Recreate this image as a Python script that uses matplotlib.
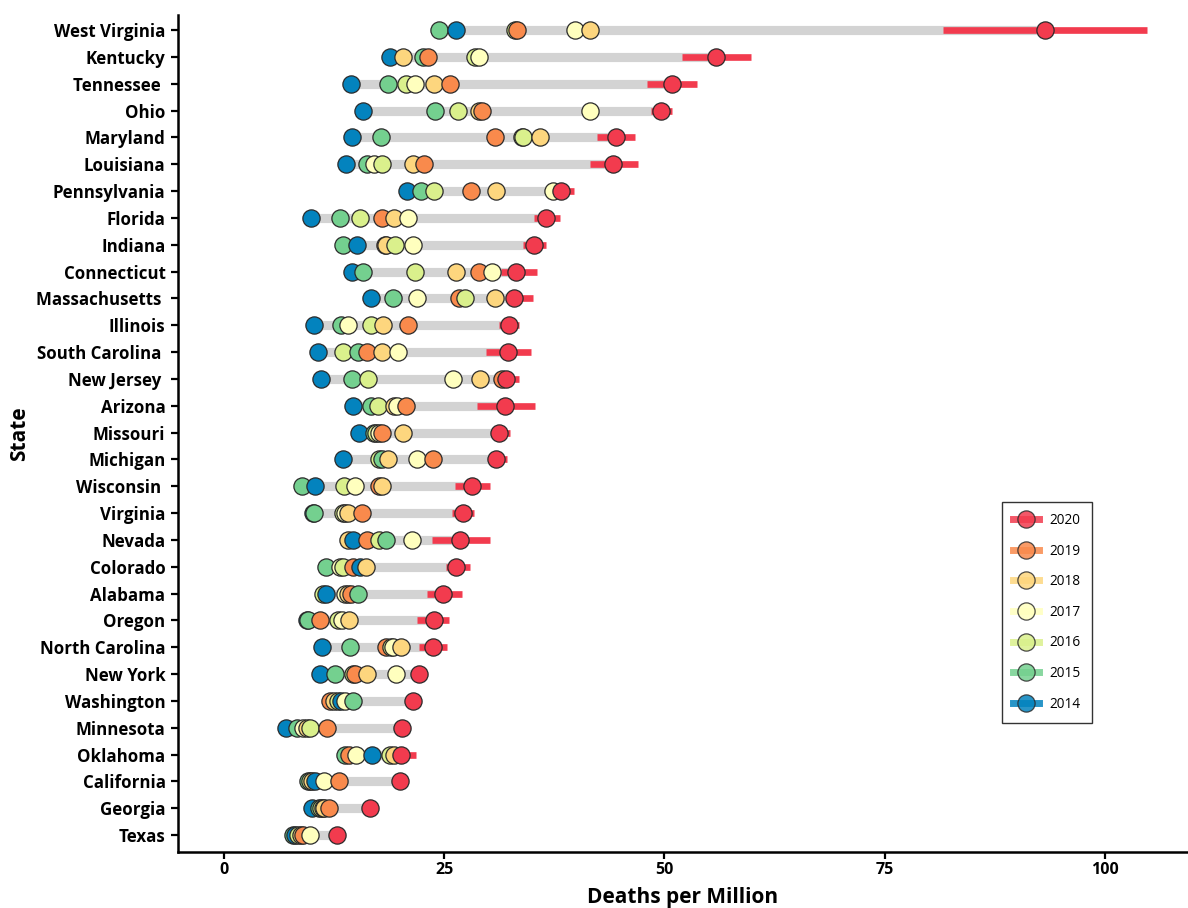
import matplotlib
matplotlib.use("Agg")
import matplotlib.pyplot as plt
from matplotlib.lines import Line2D

plt.rcParams['font.family'] = ['Open Sans', 'DejaVu Sans']

# States listed top to bottom (trailing spaces kept as in the labels)
states = ["West Virginia", "Kentucky", "Tennessee ", "Ohio", "Maryland", "Louisiana",
          "Pennsylvania", "Florida", "Indiana", "Connecticut", "Massachusetts ",
          "Illinois", "South Carolina ", "New Jersey ", "Arizona", "Missouri",
          "Michigan", "Wisconsin ", "Virginia", "Nevada", "Colorado", "Alabama",
          "Oregon", "North Carolina", "New York", "Washington", "Minnesota",
          "Oklahoma", "California", "Georgia", "Texas"]

years = ["2020", "2019", "2018", "2017", "2016", "2015", "2014"]

# Deaths per million by year
y2014 = [26.4, 18.8, 14.4, 15.8, 14.5, 13.9, 20.8, 9.9, 15.1, 14.5, 16.7, 10.2, 10.7, 11.0,
         14.6, 15.3, 13.5, 10.3, 10.15, 14.7, 15.4, 11.6, 9.45, 11.1, 10.9, 13.3, 7.0, 16.8,
         10.3, 10.0, 8.1]
y2015 = [24.4, 22.6, 18.6, 24.0, 17.8, 16.3, 22.4, 13.2, 13.5, 15.8, 19.2, 13.3, 15.2, 14.5,
         16.7, 17.0, 17.9, 8.9, 10.2, 18.4, 11.6, 15.2, 9.5, 14.3, 12.6, 14.7, 8.3, 13.8,
         9.5, 10.8, 7.9]
y2016 = [33.0, 28.5, 20.7, 26.6, 33.9, 17.9, 23.9, 15.4, 19.4, 21.7, 27.4, 16.7, 13.5, 16.4,
         17.5, 17.3, 17.6, 13.6, 13.5, 17.6, 13.5, 11.2, 13.0, 19.0, 14.7, 12.9, 9.8, 18.9,
         9.8, 11.0, 8.4]
y2017 = [39.9, 29.0, 21.7, 41.5, 33.85, 17.0, 37.4, 20.9, 21.5, 30.4, 21.9, 14.1, 19.8, 26.0,
         19.6, 17.6, 21.9, 14.9, 13.8, 21.4, 13.2, 13.8, 13.4, 19.2, 19.5, 13.8, 9.0, 15.0,
         11.4, 11.2, 9.8]
y2018 = [41.5, 20.3, 23.9, 28.9, 35.9, 21.5, 30.9, 19.3, 18.35, 26.4, 30.8, 18.1, 18.0, 29.1,
         19.3, 20.3, 18.6, 17.9, 14.1, 14.1, 16.1, 14.1, 14.2, 20.1, 16.3, 12.5, 9.4, 19.3,
         10.0, 11.4, 8.7]
y2019 = [33.3, 23.2, 25.7, 29.3, 30.8, 22.7, 28.1, 18.0, 18.3, 28.9, 26.7, 20.9, 16.2, 31.6,
         20.7, 18.0, 23.7, 17.6, 15.7, 16.3, 14.6, 14.4, 10.9, 18.4, 14.9, 12.1, 11.7, 14.2,
         13.1, 11.9, 9.0]
y2020 = [93.2, 55.8, 50.8, 49.6, 44.5, 44.2, 38.3, 36.6, 35.2, 33.2, 32.9, 32.4, 32.2, 32.0,
         31.9, 31.2, 30.9, 28.2, 27.1, 26.8, 26.4, 24.9, 23.8, 23.7, 22.2, 21.5, 20.2, 20.1,
         20.0, 16.6, 12.8]
# 2020 interval bounds
lo2020 = [81.6, 52.0, 48.0, 48.5, 42.3, 41.5, 37.3, 35.2, 33.9, 31.4, 32.0, 31.2, 29.7, 30.7,
          28.7, 30.3, 30.0, 26.2, 25.9, 23.6, 25.2, 23.0, 21.9, 22.1, 21.5, 20.8, 19.5, 18.2,
          19.3, 15.9, 12.1]
hi2020 = [104.7, 59.8, 53.7, 50.8, 46.7, 47.0, 39.7, 38.2, 36.5, 35.5, 35.1, 33.5, 34.8, 33.5,
          35.3, 32.5, 32.1, 30.2, 28.4, 30.2, 27.9, 27.0, 25.5, 25.3, 22.9, 22.2, 20.9, 21.8,
          20.7, 17.3, 13.5]

series = {"2020": y2020, "2019": y2019, "2018": y2018, "2017": y2017,
          "2016": y2016, "2015": y2015, "2014": y2014}
colors = {"2020": "#f23b4e", "2019": "#f98a4c", "2018": "#fdd67e", "2017": "#ffffbe",
          "2016": "#daf08c", "2015": "#74d08f", "2014": "#0383be"}

fig = plt.figure(figsize=(11.88, 9.08), dpi=100)
ax = fig.add_axes([178 / 1188, 1 - 852 / 908, 1 - 178 / 1188, (852 - 15) / 908])

n = len(states)
ypos = [n - 1 - i for i in range(n)]

for i, y in enumerate(ypos):
    vals = [series[yr][i] for yr in years]
    ax.hlines(y, min(vals), max(vals), color="#d3d3d3", lw=6.6, zorder=1)
    ax.hlines(y, lo2020[i], hi2020[i], color=colors["2020"], lw=4.8, zorder=2)
    # points drawn left to right so the larger value sits on top
    order = sorted(years, key=lambda yr: series[yr][i])
    for k, yr in enumerate(order):
        ax.plot(series[yr][i], y, 'o', ms=12.4, mfc=colors[yr], mec="#2a2a2a",
                mew=0.9, zorder=3 + k)

ax.set_xlim(-5.2, 109.4)
ax.set_ylim(-0.63, n - 1 + 0.56)
ax.set_yticks(ypos)
ax.set_yticklabels(states, fontsize=12.2, fontweight='bold')
ax.set_xticks([0, 25, 50, 75, 100])
ax.set_xticklabels(["0", "25", "50", "75", "100"], fontsize=11.5, fontweight='bold')
ax.tick_params(axis='both', direction='out', length=5, width=1.6, color='black', pad=4)
ax.tick_params(axis='x', pad=2)
for s in ("top", "right"):
    ax.spines[s].set_visible(False)
for s in ("left", "bottom"):
    ax.spines[s].set_linewidth(1.8)

ax.set_xlabel("Deaths per Million", fontsize=15, fontweight='bold', labelpad=7)
ax.set_ylabel("State", fontsize=15, fontweight='bold', labelpad=4)

handles = [Line2D([], [], color=colors[yr], lw=5, alpha=0.85, marker='o', ms=12.4,
                  mfc=colors[yr], mec="#2a2a2a", mew=0.9) for yr in years]
leg = fig.legend(handles, years, loc='upper left', bbox_to_anchor=(1002 / 1188, 1 - 502 / 908),
                 bbox_transform=fig.transFigure, borderaxespad=0, frameon=True,
                 fancybox=False, edgecolor='black', fontsize=9.8, handlelength=1.9,
                 labelspacing=1.15, handletextpad=0.8, borderpad=0.8)
leg.get_frame().set_linewidth(1.0)

fig.savefig("out.png", dpi=100)
